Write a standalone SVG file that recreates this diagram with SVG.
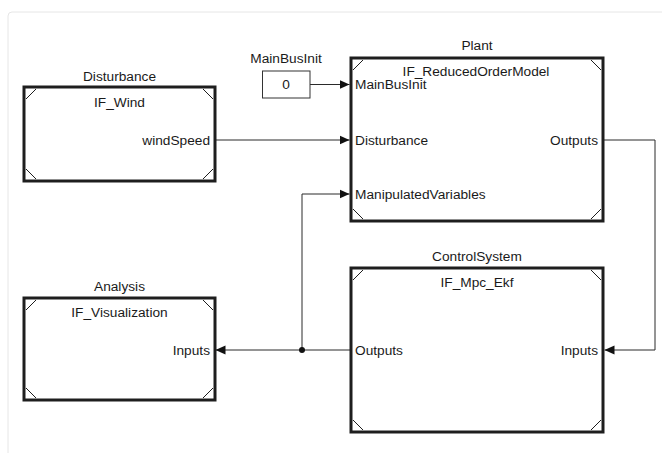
<svg xmlns="http://www.w3.org/2000/svg" width="662" height="453" viewBox="0 0 662 453">
<style>
text{font-family:"Liberation Sans",Arial,sans-serif;font-size:13.7px;fill:#1a1a1a}
.c{text-anchor:middle}
.r{text-anchor:end}
.blk{fill:#fff;stroke:#1e1e1e;stroke-width:3}
.cm{stroke:#1e1e1e;stroke-width:1;fill:none}
.wire{fill:none;stroke:#2a2a2a;stroke-width:1}
</style>
<defs>
<marker id="ah" markerUnits="userSpaceOnUse" markerWidth="10" markerHeight="10" refX="10" refY="5" orient="auto" viewBox="0 0 10 10">
<path d="M0,0.5 L10,5 L0,9.5 z" fill="#111"/>
</marker>
</defs>
<rect x="0" y="0" width="662" height="453" fill="#fff"/>
<rect x="8" y="12" width="700" height="500" rx="4" fill="#fff" stroke="#e6e6e6" stroke-width="1"/>

<g id="connectors">
<path class="wire" d="M310,84.5 H349.5" marker-end="url(#ah)"/>
<path class="wire" d="M215,140 H349.5" marker-end="url(#ah)"/>
<path class="wire" d="M603,140 H655 V350 H604.5" marker-end="url(#ah)"/>
<path class="wire" d="M351,350 H215.5" marker-end="url(#ah)"/>
<path class="wire" d="M302,350 V194 H349.5" marker-end="url(#ah)"/>
<circle cx="302" cy="350" r="3" fill="#111"/>
</g>

<g id="MainBusInit">
<text class="c" x="286" y="62.5">MainBusInit</text>
<rect x="262.5" y="71" width="47.5" height="27" fill="#fff" stroke="#333" stroke-width="1"/>
<text class="c" x="286" y="89">0</text>
</g>

<g id="Disturbance">
<text class="c" x="119.5" y="81">Disturbance</text>
<rect class="blk" x="24" y="87" width="191" height="94"/>
<path class="cm" d="M26,99 L36,89 M203,89 L213,99 M26,169 L36,179 M203,179 L213,169"/>
<text class="c" x="119.5" y="106.5">IF_Wind</text>
<text class="r" x="210" y="144.5">windSpeed</text>
</g>

<g id="Plant">
<text class="c" x="477" y="50">Plant</text>
<rect class="blk" x="351" y="58" width="252" height="163"/>
<path class="cm" d="M353,70 L363,60 M591,60 L601,70 M353,209 L363,219 M591,219 L601,209"/>
<text class="c" x="476" y="76">IF_ReducedOrderModel</text>
<text x="355" y="88.5">MainBusInit</text>
<text x="355" y="144.5">Disturbance</text>
<text x="355" y="198.5">ManipulatedVariables</text>
<text class="r" x="598" y="144.5">Outputs</text>
</g>

<g id="Analysis">
<text class="c" x="119.5" y="290.5">Analysis</text>
<rect class="blk" x="24" y="298" width="191" height="102"/>
<path class="cm" d="M26,310 L36,300 M203,300 L213,310 M26,388 L36,398 M203,398 L213,388"/>
<text class="c" x="119.5" y="317">IF_Visualization</text>
<text class="r" x="210" y="354.5">Inputs</text>
</g>

<g id="ControlSystem">
<text class="c" x="477" y="260.5">ControlSystem</text>
<rect class="blk" x="351" y="268" width="252" height="164"/>
<path class="cm" d="M353,280 L363,270 M591,270 L601,280 M353,420 L363,430 M591,430 L601,420"/>
<text class="c" x="477" y="287">IF_Mpc_Ekf</text>
<text x="355" y="354.5">Outputs</text>
<text class="r" x="598" y="354.5">Inputs</text>
</g>
</svg>
